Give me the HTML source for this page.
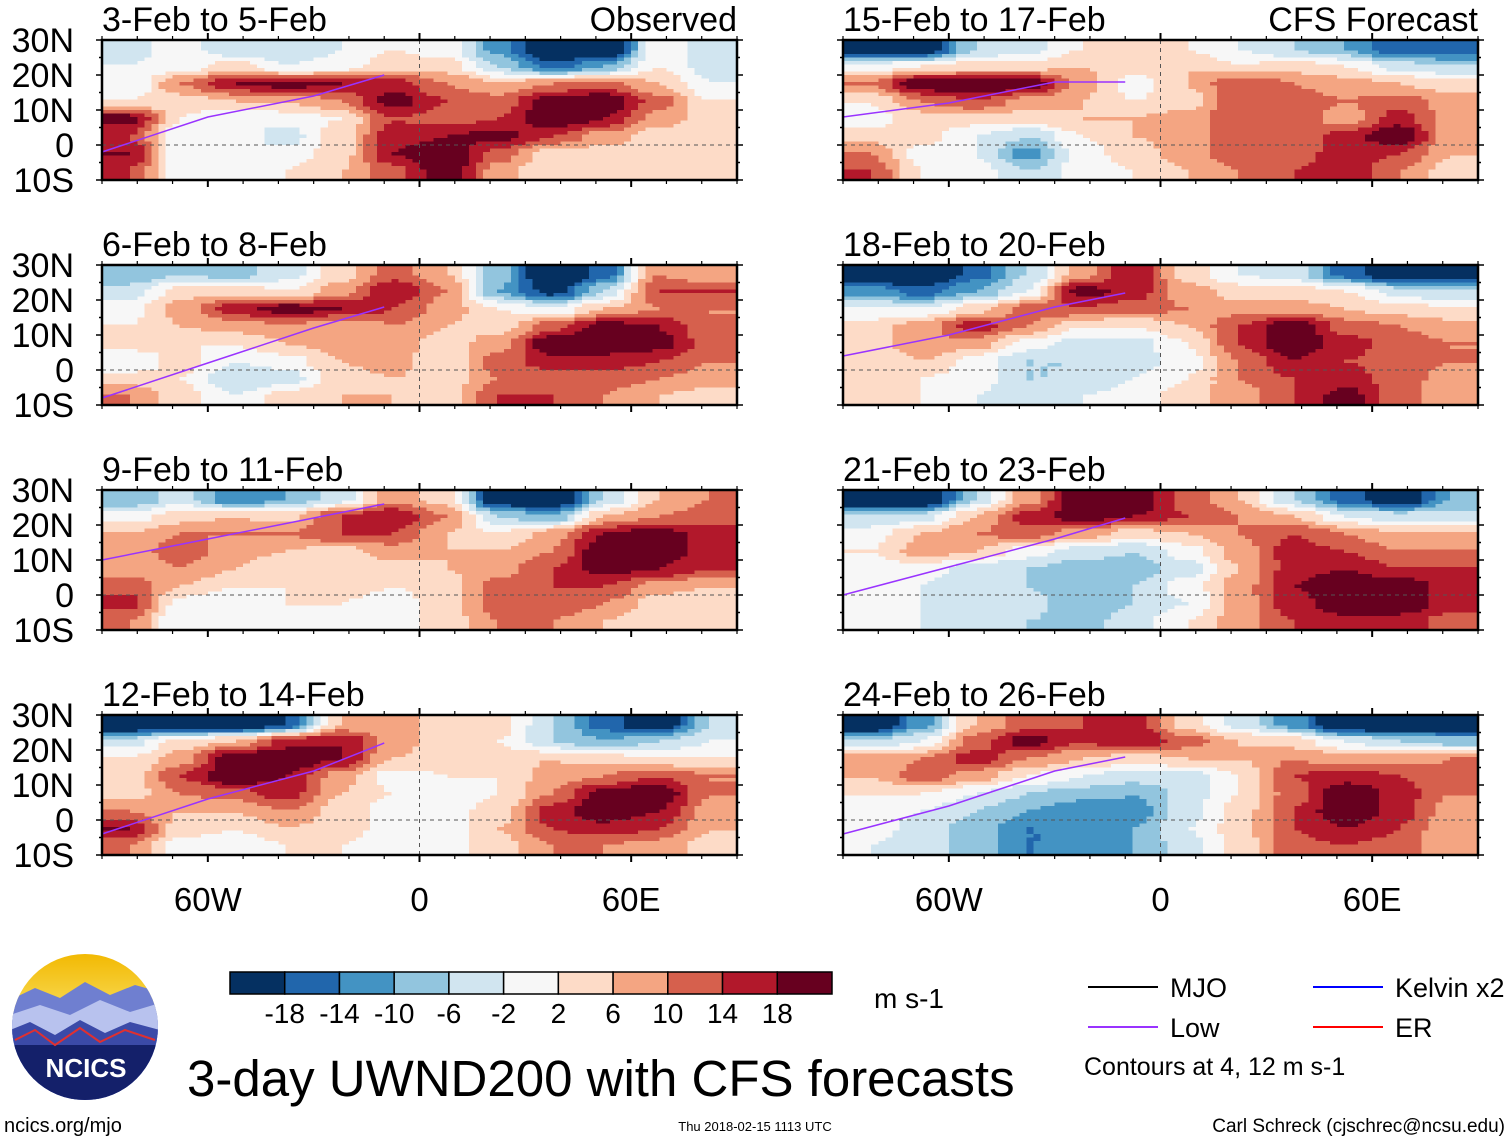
<!DOCTYPE html>
<html><head><meta charset="utf-8">
<style>
html,body{margin:0;padding:0;background:#fff;}
body{width:1510px;height:1142px;position:relative;overflow:hidden;font-family:"Liberation Sans",sans-serif;}
svg{position:absolute;left:0;top:0;}
</style></head>
<body>
<svg id="fig" width="1510" height="1142" viewBox="0 0 1510 1142">
<defs>
<linearGradient id="sky" x1="0" y1="0" x2="0" y2="1">
<stop offset="0" stop-color="#f2b800"/><stop offset="0.35" stop-color="#f7d64a"/><stop offset="0.5" stop-color="#9fb0e0"/><stop offset="1" stop-color="#1b2a6b"/>
</linearGradient>
<clipPath id="logoclip"><circle cx="85" cy="1027" r="73"/></clipPath>
</defs>
<g id="panels"></g>
<g id="legend"></g>
</svg>
<script>
// ---- data: u-wind (m/s) on 5deg lat x 15deg lon grid, rows 27.5N..7.5S, cols 82.5W..82.5E
const lats = [27.5,22.5,17.5,12.5,7.5,2.5,-2.5,-7.5];
const lons = [-82.5,-67.5,-52.5,-37.5,-22.5,-7.5,7.5,22.5,37.5,52.5,67.5,82.5];
const titles = ["3-Feb to 5-Feb","6-Feb to 8-Feb","9-Feb to 11-Feb","12-Feb to 14-Feb","15-Feb to 17-Feb","18-Feb to 20-Feb","21-Feb to 23-Feb","24-Feb to 26-Feb"];
const levels = [-18,-14,-10,-6,-2,2,6,10,14,18];
const levelColors = ["#053061","#2166ac","#4393c3","#92c5de","#d1e5f0","#f7f7f7","#fddbc7","#f4a582","#d6604d","#b2182b","#67001f"];
const xTickLabels = ["60W","0","60E"];
const xTickLons = [-60,0,60];
const yTickLabels = ["30N","20N","10N","0","10S"];
const yTickLats = [30,20,10,0,-10];
const uFeb03 = [
[-4,0,-6,-6,-2,2,0,-12,-26,-26,0,-4],
[-2,0,4,-2,0,4,4,-6,-16,-10,2,-4],
[-2,10,18,20,18,16,10,6,10,12,6,-2],
[2,4,6,6,10,20,14,12,20,22,12,2],
[20,2,-2,0,2,14,12,14,22,18,8,4],
[14,-2,0,-4,4,16,18,20,14,8,4,2],
[18,-2,-2,0,4,18,22,12,4,4,6,2],
[14,-2,-2,2,6,12,22,8,2,4,4,2]];
const uFeb06 = [
[-10,-6,-8,-4,4,12,6,-8,-26,-16,10,6],
[-4,4,4,2,8,18,10,-10,-20,-6,14,14],
[0,8,16,20,18,14,8,2,-2,6,10,10],
[2,6,8,10,6,10,6,4,12,20,18,10],
[4,2,2,6,8,8,4,8,22,22,20,12],
[-2,4,-2,0,6,8,2,12,16,16,14,10],
[4,2,-6,-4,4,6,4,10,12,12,10,8],
[10,4,-2,4,6,6,4,14,14,10,6,4]];
const uFeb09 = [
[-10,-4,-14,-10,-4,8,4,-24,-26,-6,6,10],
[0,4,6,4,14,18,10,-6,-10,6,10,12],
[6,10,10,10,14,14,6,2,8,18,20,16],
[8,12,8,6,4,8,6,6,10,22,22,16],
[8,10,6,2,2,4,6,8,14,20,18,14],
[12,6,2,2,4,2,4,12,14,14,8,6],
[16,0,-2,2,2,0,4,12,14,10,4,2],
[10,-2,-2,0,0,0,4,10,10,6,2,2]];
const uFeb12 = [
[-26,-26,-26,-18,6,8,4,4,-6,-16,-24,-6],
[-4,4,6,16,18,8,4,2,-6,-10,-6,-2],
[2,8,22,22,18,6,4,4,6,4,2,2],
[4,14,22,18,8,0,2,2,8,10,14,10],
[4,10,12,16,6,2,0,2,10,20,22,10],
[10,6,6,10,4,0,0,4,16,22,18,8],
[18,4,2,6,4,0,0,6,14,16,14,6],
[10,0,-2,2,2,0,0,4,10,10,8,4]];
const uFeb15 = [
[-26,-24,-6,-4,2,4,2,-2,-6,-10,-18,-18],
[0,2,4,4,6,4,6,2,4,2,-4,-6],
[10,22,22,22,8,0,6,14,10,8,6,4],
[2,10,14,8,6,2,4,14,12,10,12,8],
[0,4,4,4,6,6,8,14,12,8,16,8],
[4,4,-2,-6,2,6,8,14,10,16,22,8],
[10,0,-2,-12,0,4,8,14,12,16,14,6],
[14,2,0,-6,0,2,6,10,14,18,10,4]];
const uFeb18 = [
[-26,-26,-16,-6,8,18,4,-2,-4,-16,-24,-24],
[-12,-16,-10,-2,20,16,8,4,4,2,-4,-6],
[-2,-2,4,12,14,12,10,8,8,6,4,2],
[4,8,16,10,2,2,6,14,22,12,10,8],
[4,10,8,0,-4,-4,2,14,22,16,12,10],
[2,6,0,-6,-6,-4,0,10,18,14,12,10],
[4,2,0,-6,-6,-2,2,10,14,16,12,8],
[4,2,-2,-4,-2,0,4,8,14,20,12,6]];
const uFeb21 = [
[-26,-26,-6,8,22,22,12,6,-6,-16,-24,-10],
[-6,-4,6,16,20,18,14,10,6,-2,-4,-4],
[0,6,10,12,8,4,6,10,14,10,6,6],
[2,8,6,0,-4,-6,0,8,16,14,10,10],
[0,0,-4,-6,-8,-8,-4,6,16,18,14,14],
[-2,-2,-6,-6,-10,-6,0,8,18,22,22,16],
[0,-2,-4,-4,-10,-6,-2,8,16,22,22,16],
[0,-2,-6,-6,-8,-4,2,8,14,16,16,12]];
const uFeb24 = [
[-26,-12,6,12,14,16,4,-4,-12,-26,-26,-26],
[-6,-2,12,20,14,18,12,6,4,-2,-6,-8],
[8,10,16,10,6,4,6,6,10,8,8,10],
[6,12,8,2,-2,-4,-4,2,14,16,14,12],
[2,2,-2,-6,-8,-10,-4,2,12,22,16,10],
[0,-2,-6,-10,-14,-12,-4,4,14,22,16,8],
[0,-4,-8,-14,-14,-10,-2,4,14,18,14,6],
[-2,-4,-8,-14,-14,-10,-4,4,12,14,12,6]];
const fields = [uFeb03,uFeb06,uFeb09,uFeb12,uFeb15,uFeb18,uFeb21,uFeb24];
// rough Low (purple) contour centre-lines: [lon,lat]
const lowLines = [
[[-90,-2],[-60,8],[-30,14],[-10,20]],
[[-90,-8],[-60,2],[-30,12],[-10,18]],
[[-90,10],[-60,16],[-30,22],[-10,26]],
[[-90,-4],[-60,6],[-30,14],[-10,22]],
[[-90,8],[-60,12],[-30,18],[-10,18]],
[[-90,4],[-60,10],[-30,18],[-10,22]],
[[-90,0],[-60,8],[-30,16],[-10,22]],
[[-90,-4],[-60,4],[-30,14],[-10,18]]];

const SVGNS="http://www.w3.org/2000/svg";
function mk(tag,attrs,parent){const e=document.createElementNS(SVGNS,tag);for(const k in attrs)e.setAttribute(k,attrs[k]);if(parent)parent.appendChild(e);return e;}
const panelsG=document.getElementById('panels');
const PW=635, PH=140;
const origins=[[102,40],[102,265],[102,490],[102,715],[843,40],[843,265],[843,490],[843,715]];
function xScale(ox,lon){return ox+(lon+90)/180*PW;}
function yScale(oy,lat){return oy+(30-lat)/40*PH;}
function ss(t){return t*t*(3-2*t);}
function sample(f,lon,lat){
  let fi=(lon-lons[0])/15; let fj=(lats[0]-lat)/5;
  fi=Math.max(0,Math.min(lons.length-1,fi)); fj=Math.max(0,Math.min(lats.length-1,fj));
  const i0=Math.min(Math.floor(fi),lons.length-2), j0=Math.min(Math.floor(fj),lats.length-2);
  const a=ss(fi-i0),b=ss(fj-j0);
  return f[j0][i0]*(1-a)*(1-b)+f[j0][i0+1]*a*(1-b)+f[j0+1][i0]*(1-a)*b+f[j0+1][i0+1]*a*b;
}
function colorFor(v){let k=0;while(k<levels.length&&v>=levels[k])k++;return levelColors[k];}

fields.forEach((f,p)=>{
  const [ox,oy]=origins[p];
  const g=mk('g',{},panelsG);
  
  
  const cells=mk('g',{'shape-rendering':'crispEdges'},g);
  
  
  const dLon=2, dLat=1;
  for(let lat=30;lat>-10;lat-=dLat){
    let runStart=-90, runCol=null;
    for(let lon=-90;lon<=90;lon+=dLon){
      const c = lon<90 ? colorFor(sample(f,lon+dLon/2,lat-dLat/2)) : null;
      if(c!==runCol){
        if(runCol){
          const r=mk('rect',{x:xScale(ox,runStart),y:yScale(oy,lat),width:xScale(ox,lon)-xScale(ox,runStart)+0.5,height:PH*dLat/40+0.5,fill:runCol},cells);
          
          
        }
        runStart=lon; runCol=c;
      }
    }
  }
  mk('line',{x1:ox,x2:ox+PW,y1:yScale(oy,0),y2:yScale(oy,0),stroke:'#555','stroke-dasharray':'4,4','stroke-width':1},g);
  mk('line',{x1:xScale(ox,0),x2:xScale(ox,0),y1:oy,y2:oy+PH,stroke:'#555','stroke-dasharray':'4,4','stroke-width':1},g);
  const ll=lowLines[p].map(q=>xScale(ox,q[0])+','+yScale(oy,q[1])).join(' ');
  const pl=mk('polyline',{points:ll,fill:'none',stroke:'#9933ff','stroke-width':1.5},g);
  
  
  const fr=mk('rect',{x:ox,y:oy,width:PW,height:PH,fill:'none',stroke:'#000','stroke-width':2.5},g);
  
  
  for(let lon=-90;lon<=90;lon+=10){
    const major=lon%60===0; const x=xScale(ox,lon); const L=major?7:4;
    mk('line',{x1:x,x2:x,y1:oy,y2:oy-L,stroke:'#000','stroke-width':major?2:1.2},g);
    mk('line',{x1:x,x2:x,y1:oy+PH,y2:oy+PH+L,stroke:'#000','stroke-width':major?2:1.2},g);
  }
  for(let lat=-10;lat<=30;lat+=5){
    const major=lat%10===0; const y=yScale(oy,lat); const L=major?6:3;
    mk('line',{x1:ox,x2:ox-L,y1:y,y2:y,stroke:'#000','stroke-width':1.5},g);
    mk('line',{x1:ox+PW,x2:ox+PW+L,y1:y,y2:y,stroke:'#000','stroke-width':1.5},g);
  }
  const t=mk('text',{x:ox,y:oy-9,'font-size':34,fill:'#000'},g);
  t.textContent=titles[p];
  
  
  if(p<4){
    yTickLabels.forEach((lab,i)=>{
      const yt=mk('text',{x:74,y:yScale(oy,yTickLats[i])+12,'font-size':34,'text-anchor':'end',fill:'#000'},g);
      yt.textContent=lab;
      
      
    });
  }
  if(p===3||p===7){
    xTickLabels.forEach((lab,i)=>{
      const xt=mk('text',{x:xScale(ox,xTickLons[i]),y:911,'font-size':33,'text-anchor':'middle',fill:'#000'},g);
      xt.textContent=lab;
      
      
    });
  }
});
[["Observed",737],["CFS Forecast",1478]].forEach(([s,x])=>{
  const t=mk('text',{x:x,y:31,'font-size':34,'text-anchor':'end'},panelsG);
  t.textContent=s;
  
  
});

const lg=document.getElementById('legend');
const cbX=230, cbW=602, cbY=972, cbH=22, bw=cbW/levelColors.length;
levelColors.forEach((c,i)=>{
  const r=mk('rect',{x:cbX+i*bw,y:cbY,width:bw,height:cbH,fill:c,stroke:'#000','stroke-width':1.5},lg);
  
  
});
levels.forEach((v,i)=>{
  const t=mk('text',{x:cbX+(i+1)*bw,y:1023,'font-size':28,'text-anchor':'middle'},lg);
  t.textContent=String(v);
  
  
});
const unit=mk('text',{x:874,y:1008,'font-size':28},lg); unit.textContent='m s-1';


[["MJO","#000",1088,987],["Low","#9933ff",1088,1027],["Kelvin x2","#0000ff",1313,987],["ER","#ff0000",1313,1027]].forEach(([n,c,x,y])=>{
  mk('line',{x1:x,x2:x+70,y1:y,y2:y,stroke:c,'stroke-width':2},lg);
  const t=mk('text',{x:x+82,y:y+10,'font-size':27},lg); t.textContent=n;
  
  
});
const ct=mk('text',{x:1084,y:1075,'font-size':25},lg); ct.textContent='Contours at 4, 12 m s-1';


const tt=mk('text',{x:187,y:1096,'font-size':51},lg); tt.textContent='3-day UWND200 with CFS forecasts';


const u1=mk('text',{x:4,y:1132,'font-size':20},lg); u1.textContent='ncics.org/mjo';


const d1=mk('text',{x:755,y:1131,'font-size':13,'text-anchor':'middle'},lg); d1.textContent='Thu 2018-02-15 1113 UTC';


const a1=mk('text',{x:1505,y:1132,'font-size':19,'text-anchor':'end'},lg); a1.textContent='Carl Schreck (cjschrec@ncsu.edu)';


const logo=mk('g',{'clip-path':'url(#logoclip)'},lg);


mk('rect',{x:10,y:952,width:150,height:150,fill:'url(#sky)'},logo);
mk('path',{d:'M10 1000 L35 988 L60 998 L85 982 L110 995 L135 985 L160 992 L160 1102 L10 1102Z',fill:'#6f7fd0'},logo);
mk('path',{d:'M10 1015 L40 1005 L70 1015 L100 1000 L130 1012 L160 1003 L160 1102 L10 1102Z',fill:'#b8c2ee'},logo);
mk('path',{d:'M10 1030 L30 1022 L55 1035 L80 1020 L105 1033 L130 1022 L160 1030 L160 1102 L10 1102Z',fill:'#3b4aa8'},logo);
mk('path',{d:'M10 1045 L160 1045 L160 1102 L10 1102Z',fill:'#14206a'},logo);
mk('path',{d:'M15 1040 L35 1030 L55 1045 L80 1028 L100 1042 L125 1030 L155 1040',fill:'none',stroke:'#e03030','stroke-width':2},logo);
const lt=mk('text',{x:86,y:1077,'font-size':26,'font-weight':'bold','text-anchor':'middle',fill:'#fff'},lg);
lt.textContent='NCICS';


</script>
</body></html>
